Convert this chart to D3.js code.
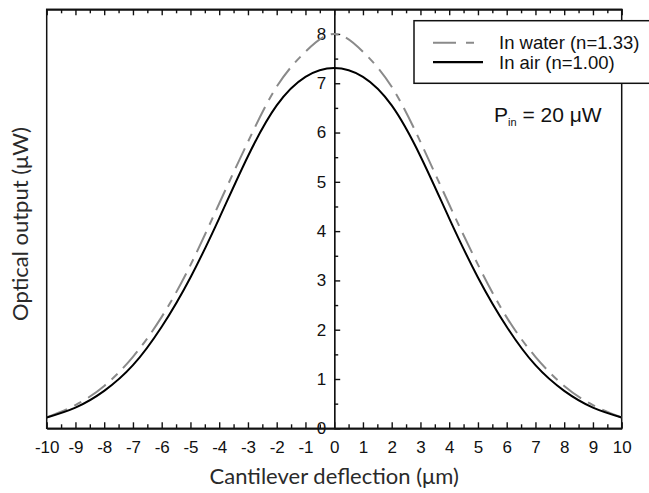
<!DOCTYPE html>
<html>
<head>
<meta charset="utf-8">
<script src="https://cdn.jsdelivr.net/npm/d3@7"></script>
<style>
  body { margin: 0; background: #fff; }
  svg { display: block; }
  .tick text { font-family: "Liberation Sans", Arial, sans-serif; font-size: 17px; fill: #111; }
  .title { font-family: "Lato", "Liberation Sans", sans-serif; font-size: 22px; fill: #2a2a2a; }
</style>
</head>
<body>
<div class="chart"></div>
<script>
// deflection (um) and optical output (uW)
var deflection = [-10, -9, -8, -7, -6, -5, -4, -3, -2, -1, 0, 1, 2, 3, 4, 5, 6, 7, 8, 9, 10];
var inAir   = [0.22, 0.42, 0.76, 1.28, 2.06, 3.06, 4.26, 5.52, 6.55, 7.13, 7.31, 7.13, 6.55, 5.52, 4.26, 3.06, 2.06, 1.28, 0.76, 0.42, 0.22];
var inWater = [0.22, 0.47, 0.86, 1.45, 2.26, 3.31, 4.56, 5.81, 6.93, 7.64, 8.0, 7.64, 6.93, 5.81, 4.54, 3.32, 2.25, 1.45, 0.86, 0.47, 0.22];
var xTicks = d3.range(-10, 11, 1);
var xMinor = d3.range(-9.5, 10, 1);
var yTicks = [0, 1, 2, 3, 4, 5, 6, 7, 8];
var yMinor = [0.5, 1.5, 2.5, 3.5, 4.5, 5.5, 6.5, 7.5];
var legendLabels = ["In water (n=1.33)", "In air (n=1.00)"];

var width = 649, height = 493;
var margin = {left: 46.7, right: 27.3, top: 9.3, bottom: 64.7};

var svg = d3.select(".chart").append("svg")
  .attr("width", width)
  .attr("height", height);

svg.append("rect").attr("width", width).attr("height", height).attr("fill", "#fff");

var x = d3.scaleLinear().domain([-10, 10]).range([margin.left, width - margin.right]);
var y = d3.scaleLinear().domain([0, 8.5]).range([height - margin.bottom, margin.top]);

//plain hyphen for negatives, like the original
var plainFmt = function(d){ return String(d); };

svg.append("clipPath").attr("id", "plotclip")
  .append("rect")
  .attr("x", margin.left).attr("y", margin.top)
  .attr("width", x(10) - x(-10)).attr("height", y(0) - y(8.5));

//bottom axis: ticks point up into the plot
svg.append("g")
  .attr("transform", "translate(0," + y(0) + ")")
  .call(d3.axisBottom(x).tickValues(xTicks).tickSize(-6).tickSizeOuter(0).tickPadding(13).tickFormat(plainFmt));
svg.append("g")
  .attr("transform", "translate(0," + y(0) + ")")
  .call(d3.axisBottom(x).tickValues(xMinor).tickSize(-4).tickSizeOuter(0).tickFormat(""));

//top axis: ticks point down
svg.append("g")
  .attr("transform", "translate(0," + y(8.5) + ")")
  .call(d3.axisTop(x).tickValues(xTicks).tickSize(-6).tickSizeOuter(0).tickFormat(""));
svg.append("g")
  .attr("transform", "translate(0," + y(8.5) + ")")
  .call(d3.axisTop(x).tickValues(xMinor).tickSize(-4).tickSizeOuter(0).tickFormat(""));

//y axis sits at x = 0, ticks to the right
svg.append("g")
  .attr("transform", "translate(" + x(0) + ",0)")
  .call(d3.axisLeft(y).tickValues(yTicks).tickSize(-6).tickSizeOuter(0).tickPadding(8).tickFormat(plainFmt));
svg.append("g")
  .attr("transform", "translate(" + x(0) + ",0)")
  .call(d3.axisLeft(y).tickValues(yMinor).tickSize(-4).tickSizeOuter(0).tickFormat(""));

svg.selectAll(".domain, .tick line").attr("stroke", "#111").attr("stroke-width", 1.4);

//frame
svg.append("rect")
  .attr("x", x(-10)).attr("y", y(8.5))
  .attr("width", x(10) - x(-10)).attr("height", y(0) - y(8.5))
  .attr("fill", "none").attr("stroke", "#111").attr("stroke-width", 1.5);

var line = d3.line().curve(d3.curveNatural);

var waterPts = deflection.map(function(d, i){ return [x(d), y(inWater[i])]; });
var airPts = deflection.map(function(d, i){ return [x(d), y(inAir[i])]; });

svg.append("path")
  .attr("clip-path", "url(#plotclip)")
  .attr("d", line(waterPts))
  .attr("fill", "none")
  .attr("stroke", "#8a8a8a")
  .attr("stroke-width", 2)
  .attr("stroke-dasharray", "22,8,8,8");

svg.append("path")
  .attr("clip-path", "url(#plotclip)")
  .attr("d", line(airPts))
  .attr("fill", "none")
  .attr("stroke", "#000")
  .attr("stroke-width", 2);

//legend
var lg = svg.append("g").attr("transform", "translate(414,20.7)");
lg.append("rect")
  .attr("width", 260).attr("height", 62.6)
  .attr("fill", "#fff").attr("stroke", "#111").attr("stroke-width", 1.5);
lg.append("line")
  .attr("x1", 19).attr("x2", 69).attr("y1", 22).attr("y2", 22)
  .attr("stroke", "#8a8a8a").attr("stroke-width", 2).attr("stroke-dasharray", "23,10,8,10");
lg.append("line")
  .attr("x1", 19).attr("x2", 69).attr("y1", 41.5).attr("y2", 41.5)
  .attr("stroke", "#000").attr("stroke-width", 2.2);
lg.selectAll(".lbl")
  .data(legendLabels)
  .enter()
  .append("text")
  .attr("class", "lbl")
  .attr("x", 85)
  .attr("y", function(d, i){ return 28.6 + i * 19.3; })
  .style("font-family", "'Liberation Sans', Arial, sans-serif")
  .style("font-size", "18.5px")
  .style("fill", "#111")
  .text(function(d){ return d; });

//P_in annotation
var pin = svg.append("text")
  .attr("x", 494).attr("y", 122)
  .style("font-family", "'Liberation Sans', Arial, sans-serif")
  .style("font-size", "21px")
  .style("fill", "#111");
pin.append("tspan").text("P");
pin.append("tspan").attr("dy", 4).style("font-size", "11px").text("in");
pin.append("tspan").attr("dy", -4).text(" = 20 μW");

//axis titles
svg.append("text")
  .attr("class", "title")
  .attr("x", x(0)).attr("y", 484)
  .attr("text-anchor", "middle")
  .text("Cantilever deflection (μm)");

svg.append("text")
  .attr("class", "title")
  .attr("transform", "translate(28,224) rotate(-90)")
  .attr("text-anchor", "middle")
  .text("Optical output (μW)");
</script>
</body>
</html>
